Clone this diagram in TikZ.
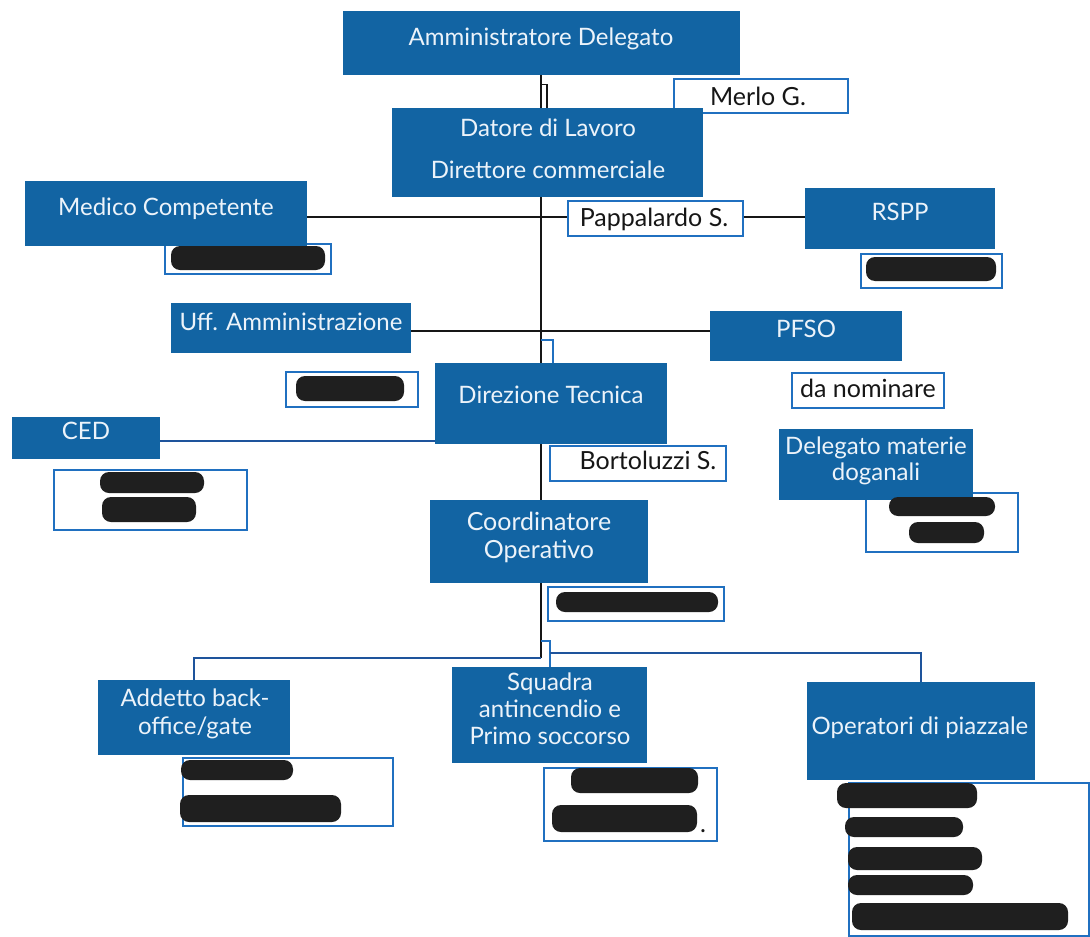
\documentclass[tikz,border=0pt]{standalone}
\usepackage{fontspec}
\setmainfont{Lato}
\usetikzlibrary{calc}
\definecolor{boxblue}{RGB}{18,100,163}
\definecolor{edgeblue}{RGB}{32,112,192}
\definecolor{lineblue}{RGB}{30,84,156}
\definecolor{ink}{RGB}{22,22,22}
\definecolor{wtxt}{RGB}{236,243,250}
\newcommand\rbox[6]{\node[#1, minimum width={(#5-#3)*1pt}, minimum height={(#6-#4)*1pt}] (#2) at (#3,-#4) {};}
\newcommand\blob[4]{\fill[redact] (#1,-#2) rectangle (#3,-#4);}
\tikzset{
  bluebox/.style={fill=boxblue, draw=none, inner sep=0pt, anchor=north west},
  namebox/.style={fill=white, draw=edgeblue, line width=1.6pt, inner sep=0pt, anchor=north west},
  wlabel/.style={text=wtxt, font=\fontsize{24}{28}\selectfont, align=center, inner sep=0pt, anchor=base},
  blabel/.style={text=ink, font=\fontsize{25}{28}\selectfont, inner sep=0pt, anchor=base},
  redact/.style={fill=black!88, rounded corners=9pt},
  conn/.style={draw=ink, line width=1.8pt},
  bconn/.style={draw=edgeblue, line width=1.6pt},
  lconn/.style={draw=lineblue, line width=1.8pt},
}
\begin{document}
\begin{tikzpicture}[x=1pt,y=1pt]
\fill[white] (0,0) rectangle (1090,-937);
\useasboundingbox (0,0) rectangle (1090,-937);

% name boxes (white, blue edge)
\rbox{namebox}{merlo}{673}{78}{847}{112}
\rbox{namebox}{pappa}{567}{200}{742}{235}
\rbox{namebox}{medred}{164}{243}{330}{273}
\rbox{namebox}{rsppred}{860}{253}{1001}{287}
\rbox{namebox}{uffred}{285}{371}{417}{406}
\rbox{namebox}{danom}{791}{372}{943}{407}
\rbox{namebox}{bort}{549}{445}{725}{480}
\rbox{namebox}{cedred}{53}{469}{246}{529}
\rbox{namebox}{delegred}{865}{492}{1017}{551}
\rbox{namebox}{coordred}{547}{586}{723}{620}
\rbox{namebox}{addred}{182}{757}{392}{825}
\rbox{namebox}{squadred}{543}{767}{716}{840}
\rbox{namebox}{operred}{848}{782}{1088}{935}

% blue boxes
\rbox{bluebox}{ad}{343}{11}{740}{75}
\rbox{bluebox}{datore}{392}{108}{703}{197}
\rbox{bluebox}{medico}{25}{181}{307}{246}
\rbox{bluebox}{rspp}{805}{188}{995}{249}
\rbox{bluebox}{uff}{171}{303}{411}{353}
\rbox{bluebox}{pfso}{710}{311}{902}{361}
\rbox{bluebox}{dir}{435}{363}{667}{444}
\rbox{bluebox}{ced}{12}{417}{160}{459}
\rbox{bluebox}{deleg}{779}{429}{973}{500}
\rbox{bluebox}{coord}{430}{500}{648}{583}
\rbox{bluebox}{addetto}{98}{680}{290}{755}
\rbox{bluebox}{squadra}{452}{667}{647}{763}
\rbox{bluebox}{oper}{807}{682}{1035}{780}

% labels (anchor base = baseline of the last line)
\node[wlabel] (adT) at (541,-45) {Amministratore Delegato};
\node[wlabel, font=\fontsize{24}{42}\selectfont] (datoreT) at (548,-178) {Datore di Lavoro\\Direttore commerciale};
\node[wlabel] (medicoT) at (166,-215) {Medico Competente};
\node[wlabel] (rsppT) at (900,-220) {RSPP};
\node[wlabel] (uffT) at (291,-330) {Uff. Amministrazione};
\node[wlabel] (pfsoT) at (806,-337) {PFSO};
\node[wlabel] (dirT) at (551,-403) {Direzione Tecnica};
\node[wlabel] (cedT) at (86,-439) {CED};
\node[wlabel, font=\fontsize{24}{26}\selectfont] (delegT) at (876,-480) {Delegato materie\\doganali};
\node[wlabel, font=\fontsize{25}{28}\selectfont] (coordT) at (539,-558) {Coordinatore\\Operativo};
\node[wlabel, font=\fontsize{24}{28}\selectfont] (addettoT) at (195,-734) {Addetto back-\\office/gate};
\node[wlabel, font=\fontsize{24}{27}\selectfont] (squadraT) at (550,-744) {Squadra\\antincendio e\\Primo soccorso};
\node[wlabel] (operT) at (920,-734) {Operatori di piazzale};

\node[blabel] (merloT) at (758,-105) {Merlo G.};
\node[blabel] (pappaT) at (654,-226) {Pappalardo S.};
\node[blabel] (danomT) at (868,-397) {da nominare};
\node[blabel] (bortT) at (648,-469) {Bortoluzzi S.};
\node[blabel] (dotT) at (703,-832) {.};

% redactions
\blob{171}{246}{325}{270}
\blob{866}{257}{996}{281}
\blob{296}{376}{404}{401}
\blob{100}{472}{204}{493}
\blob{102}{497}{196}{522}
\blob{889}{497}{995}{516}
\blob{909}{522}{984}{543}
\blob{556}{592}{718}{612}
\blob{181}{760}{293}{780}
\blob{180}{795}{341}{822}
\blob{571}{768}{698}{793}
\blob{552}{805}{697}{832}
\blob{837}{783}{977}{808}
\blob{845}{817}{963}{837}
\blob{848}{847}{982}{870}
\blob{848}{875}{973}{895}
\blob{852}{903}{1068}{930}

% connector reference points
\coordinate (tx) at (541,0);
\coordinate (tx2) at (547,0);
\coordinate (tx3) at (553,0);
\coordinate (jm) at (541,-217);
\coordinate (ju) at (541,-331);
\coordinate (hk) at (541,-340);
\coordinate (jc) at (0,-441);
\coordinate (jb) at (541,-658);
\coordinate (jb2) at (541,-641);
\coordinate (jr) at (0,-653);

% connectors
\draw[conn] (ad.south -| tx) -- (datore.north -| tx);
\draw[conn] ($(ad.south -| tx)+(0,-9)$) -| (datore.north -| tx2);
\draw[conn] (datore.south -| tx) -- (dir.north -| tx);
\draw[bconn] (hk) -| (dir.north -| tx3);
\draw[conn] (medico.east |- jm) -- (jm) -- (pappa.west |- jm);
\draw[conn] (pappa.east |- jm) -- (rspp.west |- jm);
\draw[conn] (uff.east |- ju) -- (pfso.west |- ju);
\draw[lconn] (ced.east |- jc) -- (dir.west |- jc);
\draw[conn] (dir.south -| tx) -- (coord.north -| tx);
\draw[conn] (coord.south -| tx) -- (jb);
\draw[lconn] (jb) -| (addetto.north);
\draw[bconn] (jb2) -| (squadra.north);
\draw[lconn] (squadra.north |- jr) -| (oper.north);
\end{tikzpicture}
\end{document}
